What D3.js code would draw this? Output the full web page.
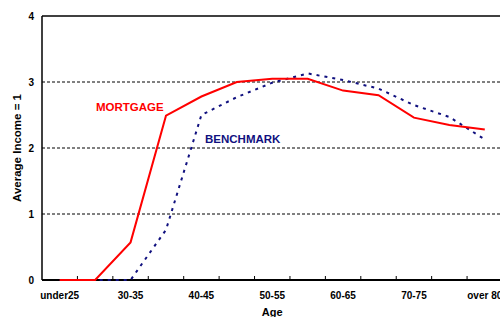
<!DOCTYPE html>
<html>
<head>
<meta charset="utf-8">
<script src="https://cdn.jsdelivr.net/npm/d3@7"></script>
<style>
  body { margin: 0; background: #fff; }
  text { font-family: "Liberation Sans", Arial, sans-serif; font-weight: bold; }
</style>
</head>
<body>
<svg id="chart"></svg>
<script>
const ageGroups = ["under25", "25-30", "30-35", "35-40", "40-45", "45-50", "50-55",
    "55-60", "60-65", "65-70", "70-75", "75-80", "over 80"];
const shownLabels = ["under25", "30-35", "40-45", "50-55", "60-65", "70-75", "over 80"];
const mortgage = [0, 0, 0.57, 2.49, 2.78, 3.0, 3.05, 3.05, 2.87, 2.8, 2.46, 2.35, 2.28];
const benchmark = [0, 0, 0, 0.76, 2.5, 2.77, 2.99, 3.13, 3.03, 2.9, 2.65, 2.47, 2.13];
const yTicks = [0, 1, 2, 3, 4];

const width = 500, height = 317;
const plotLeft = 42, plotRight = 502.5, plotTop = 16, plotBottom = 280;

const svg = d3.select("#chart").attr("width", width).attr("height", height);

const x = d3.scaleBand().domain(ageGroups).range([plotLeft, plotRight]);
const y = d3.scaleLinear().domain([0, 4]).range([plotBottom, plotTop]);

// dashed grid lines
svg.append("g")
    .selectAll("line")
    .data(yTicks.filter(t => t > 0 && t < 4))
    .enter()
    .append("line")
    .attr("x1", plotLeft).attr("x2", width)
    .attr("y1", d => y(d)).attr("y2", d => y(d))
    .attr("stroke", "#000")
    .attr("stroke-width", 1)
    .attr("stroke-dasharray", "3,2");

// top border
svg.append("line")
    .attr("x1", plotLeft).attr("x2", width)
    .attr("y1", y(4)).attr("y2", y(4))
    .attr("stroke", "#000").attr("stroke-width", 1.5);

// left axis
svg.append("line")
    .attr("x1", plotLeft).attr("x2", plotLeft)
    .attr("y1", plotTop).attr("y2", plotBottom)
    .attr("stroke", "#000").attr("stroke-width", 1.5);

svg.append("g")
    .selectAll("text")
    .data(yTicks)
    .enter()
    .append("text")
    .attr("x", 34)
    .attr("y", d => y(d) + 3.5)
    .attr("text-anchor", "end")
    .attr("font-size", "10px")
    .text(d => d);

// bottom axis with ticks at band boundaries
const xAxis = svg.append("g");
xAxis.append("line")
    .attr("x1", plotLeft).attr("x2", width)
    .attr("y1", plotBottom).attr("y2", plotBottom)
    .attr("stroke", "#000").attr("stroke-width", 2);
xAxis.selectAll(".tick")
    .data(ageGroups.slice(1))
    .enter()
    .append("line")
    .attr("x1", d => x(d)).attr("x2", d => x(d))
    .attr("y1", plotBottom).attr("y2", plotBottom - 4)
    .attr("stroke", "#000").attr("stroke-width", 1);
xAxis.selectAll("text")
    .data(shownLabels)
    .enter()
    .append("text")
    .attr("x", d => x(d) + x.bandwidth() / 2)
    .attr("y", 299)
    .attr("text-anchor", "middle")
    .attr("font-size", "10px")
    .text(d => d);

const line = d3.line()
    .x((d, i) => x(ageGroups[i]) + x.bandwidth() / 2)
    .y(d => y(d));

svg.append("path")
    .datum(benchmark)
    .attr("d", line)
    .attr("fill", "none")
    .attr("stroke", "#10107f")
    .attr("stroke-width", 2)
    .attr("stroke-dasharray", "3,5");

svg.append("path")
    .datum(mortgage)
    .attr("d", line)
    .attr("fill", "none")
    .attr("stroke", "#ff0000")
    .attr("stroke-width", 2);

svg.append("text")
    .attr("x", 96).attr("y", 111)
    .attr("font-size", "11.5px")
    .attr("fill", "#ff0000")
    .text("MORTGAGE");

svg.append("text")
    .attr("x", 205).attr("y", 143)
    .attr("font-size", "11.5px")
    .attr("fill", "#10107f")
    .text("BENCHMARK");

svg.append("text")
    .attr("transform", `translate(21, ${(plotTop + plotBottom) / 2}) rotate(-90)`)
    .attr("text-anchor", "middle")
    .attr("font-size", "11.5px")
    .text("Average Income = 1");

svg.append("text")
    .attr("x", (plotLeft + plotRight) / 2).attr("y", 316)
    .attr("text-anchor", "middle")
    .attr("font-size", "11px")
    .text("Age");
</script>
</body>
</html>
